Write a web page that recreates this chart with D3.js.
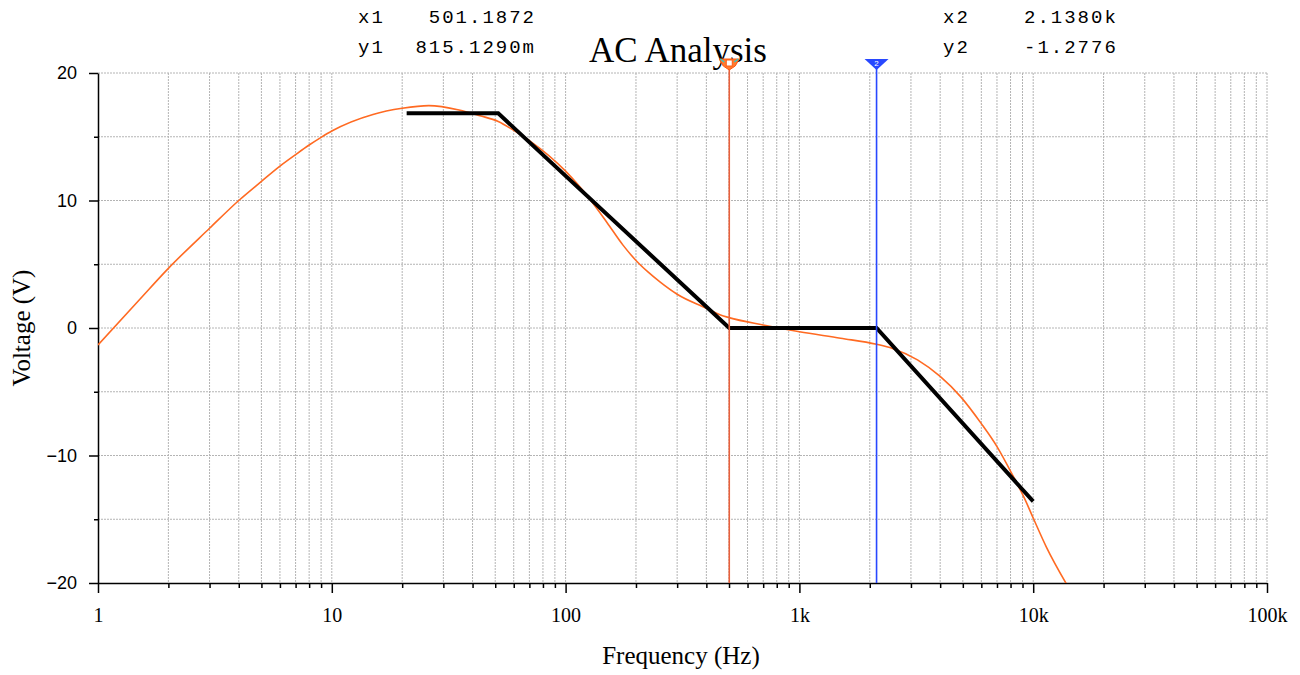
<!DOCTYPE html>
<html>
<head>
<meta charset="utf-8">
<script src="https://cdn.jsdelivr.net/npm/d3@7"></script>
<style>
  body { margin: 0; background: #fff; }
  svg { display: block; }
  .grid line { stroke: #b4b4b4; stroke-width: 1; stroke-dasharray: 2,1; }
  .axis path, .axis line { stroke: #000; stroke-width: 1.5; }
  .xaxis text { font-family: "Liberation Serif", "DejaVu Serif", serif; font-size: 20px; fill: #000; }
  .yaxis text { font-family: "Liberation Sans", Arial, sans-serif; font-size: 18px; fill: #000; }
  .title { font-family: "Liberation Serif", serif; font-size: 35px; fill: #000; }
  .axisLabel { font-family: "Liberation Serif", serif; font-size: 25px; fill: #000; }
  .readout { font-family: "Liberation Mono", "DejaVu Sans Mono", monospace; font-size: 19px; letter-spacing: 2px; fill: #000; }
</style>
</head>
<body>
<script>
// orange curve: simulated response (Hz, V)
const FREQS = [1, 1.5, 2, 3, 4, 5, 6, 7, 8, 9, 10, 15, 20, 26, 35, 43, 51.5, 60, 70, 100, 127, 150, 176, 200, 225, 254, 300, 400, 460, 500, 700, 1000, 1500, 2138, 2500, 3200, 4000, 4900, 6000, 7000, 8200, 9200, 10000, 11400, 14000];
const VOLTS = [-1.33, 2.2, 4.68, 7.82, 10.0, 11.5, 12.7, 13.6, 14.35, 14.95, 15.45, 16.75, 17.23, 17.44, 17.1, 16.65, 16.2, 15.5, 14.7, 12.3, 10.1, 8.3, 6.5, 5.3, 4.4, 3.6, 2.65, 1.55, 1.02, 0.815, 0.24, -0.29, -0.8, -1.2776, -1.6, -2.5, -3.8, -5.4, -7.5, -9.3, -11.6, -13.4, -14.9, -17.2, -20.2];
// black asymptote approximation
const ASYM_FREQS = [20.9, 51.5, 501.1872, 2138, 10000];
const ASYM_VOLTS = [16.84, 16.84, 0, 0, -13.6];
// cursors
const CURSORS = [{ id: "1", f: 501.1872, v: 0.815129, color: "#e8603c" }, { id: "2", f: 2138, v: -1.2776, color: "#2848ff" }];
const READ1 = [["x1", "501.1872"], ["y1", "815.1290m"]];
const READ2 = [["x2", "2.1380k"], ["y2", "-1.2776"]];
const Y_MAJOR = [-20, -10, 0, 10, 20];
const Y_MINOR = [-15, -5, 5, 15];
const X_LABELS = { 1: "1", 10: "10", 100: "100", 1000: "1k", 10000: "10k", 100000: "100k" };

const width = 1300, height = 675;
const margin = { top: 73, right: 33, bottom: 92, left: 98 };

const svg = d3.select("body").append("svg")
  .attr("width", width).attr("height", height)
  .attr("viewBox", [0, 0, width, height]);

const x = d3.scaleLog().domain([1, 1e5]).range([margin.left, width - margin.right]);
const y = d3.scaleLinear().domain([-20, 20]).range([height - margin.bottom, margin.top]);

const xAll = x.ticks();
const xMajor = xAll.filter(d => X_LABELS[d] !== undefined);
const xMinor = xAll.filter(d => X_LABELS[d] === undefined);

// grid
const grid = svg.append("g").attr("class", "grid");
grid.selectAll("line.v").data(xAll.filter(d => d > 1)).enter().append("line")
  .attr("class", "v")
  .attr("x1", d => x(d)).attr("x2", d => x(d))
  .attr("y1", y(20)).attr("y2", y(-20));
grid.selectAll("line.h").data(Y_MAJOR.concat(Y_MINOR).filter(d => d > -20)).enter().append("line")
  .attr("class", "h")
  .attr("x1", x(1)).attr("x2", x(1e5))
  .attr("y1", d => y(d)).attr("y2", d => y(d));

// axes
svg.append("g").attr("class", "axis xaxis")
  .attr("transform", `translate(0,${y(-20)})`)
  .call(d3.axisBottom(x).tickValues(xMinor).tickSize(5).tickSizeOuter(0).tickFormat(""))
  .select(".domain").remove();
svg.append("g").attr("class", "axis xaxis")
  .attr("transform", `translate(0,${y(-20)})`)
  .call(d3.axisBottom(x).tickValues(xMajor).tickSize(10).tickSizeOuter(0).tickPadding(15)
    .tickFormat(d => X_LABELS[d]));

svg.append("g").attr("class", "axis yaxis")
  .attr("transform", `translate(${x(1)},0)`)
  .call(d3.axisLeft(y).tickValues(Y_MINOR).tickSize(4).tickFormat(""))
  .select(".domain").remove();
svg.append("g").attr("class", "axis yaxis")
  .attr("transform", `translate(${x(1)},0)`)
  .call(d3.axisLeft(y).tickValues(Y_MAJOR).tickSize(9).tickSizeOuter(0).tickPadding(12));

// axis labels + title
svg.append("text").attr("class", "axisLabel")
  .attr("x", 681).attr("y", 664).attr("text-anchor", "middle")
  .text("Frequency (Hz)");
svg.append("text").attr("class", "axisLabel")
  .attr("transform", `translate(30,${y(0)}) rotate(-90)`)
  .attr("text-anchor", "middle")
  .text("Voltage (V)");
svg.append("text").attr("class", "title")
  .attr("x", 678).attr("y", 62).attr("text-anchor", "middle")
  .text("AC Analysis");

// curves
const line = d3.line().x(d => x(d[0])).y(d => y(d[1]));
svg.append("clipPath").attr("id", "plotclip").append("rect")
  .attr("x", x(1)).attr("y", y(20)).attr("width", x(1e5) - x(1)).attr("height", y(-20) - y(20));

svg.append("path")
  .datum(FREQS.map((f, i) => [f, VOLTS[i]]))
  .attr("clip-path", "url(#plotclip)")
  .attr("fill", "none").attr("stroke", "#ff6a22").attr("stroke-width", 1.6)
  .attr("d", line.curve(d3.curveMonotoneX));

svg.append("path")
  .datum(ASYM_FREQS.map((f, i) => [f, ASYM_VOLTS[i]]))
  .attr("fill", "none").attr("stroke", "#000").attr("stroke-width", 4)
  .attr("stroke-linejoin", "miter")
  .attr("d", d3.line().x(d => x(d[0])).y(d => y(d[1])));

// cursors
CURSORS.forEach(c => {
  const cx = x(c.f);
  svg.append("line")
    .attr("x1", cx).attr("x2", cx).attr("y1", 64).attr("y2", y(-20))
    .attr("stroke", c.color).attr("stroke-width", 1.6);
  if (c.id === "1") {
    svg.append("path")
      .attr("d", `M${cx - 10},59 L${cx + 10},59 L${cx + 6},66 L${cx},70 L${cx - 6},66 Z`)
      .attr("fill", "#ff7a30").attr("stroke", "#ff5a10").attr("stroke-width", 1);
    svg.append("rect").attr("x", cx - 3).attr("y", 60).attr("width", 6).attr("height", 6)
      .attr("fill", "#fff").attr("stroke", "#ff5a10");
    svg.append("path").attr("d", `M${cx - 9},59 L${cx - 5},62 M${cx + 5},62 L${cx + 9},59`)
      .attr("stroke", "#30c8c8").attr("stroke-width", 1.5);
  } else {
    svg.append("path")
      .attr("d", `M${cx - 12},59 L${cx + 12},59 L${cx},70 Z`)
      .attr("fill", c.color);
    svg.append("text").attr("x", cx).attr("y", 66).attr("text-anchor", "middle")
      .attr("font-family", "Liberation Sans, sans-serif").attr("font-size", 8).attr("fill", "#fff")
      .text(c.id);
  }
});

// readouts
READ1.forEach((r, i) => {
  svg.append("text").attr("class", "readout").attr("x", 358).attr("y", 23 + i * 30).text(r[0]);
  svg.append("text").attr("class", "readout").attr("x", 536).attr("y", 23 + i * 30)
    .attr("text-anchor", "end").text(r[1]);
});
READ2.forEach((r, i) => {
  svg.append("text").attr("class", "readout").attr("x", 943).attr("y", 23 + i * 30).text(r[0]);
  svg.append("text").attr("class", "readout").attr("x", 1024).attr("y", 23 + i * 30).text(r[1]);
});
</script>
</body>
</html>
